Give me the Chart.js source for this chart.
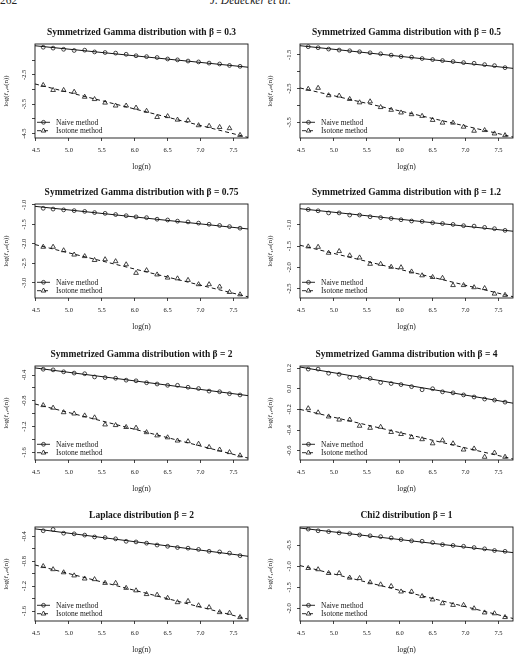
<!DOCTYPE html>
<html>
<head>
<meta charset="utf-8">
<script src="https://cdn.jsdelivr.net/npm/chart.js@4.4.0/dist/chart.umd.min.js"></script>
<style>
  body { margin: 0; background: #fff; width: 518px; height: 660px; position: relative; overflow: hidden; font-family: "Liberation Serif", serif; }
  .hdr { position: absolute; top: -6px; font-size: 11.5px; color: #222; }
  canvas { position: absolute; }
</style>
</head>
<body>
<div class="hdr" style="left:0">262</div>
<div class="hdr" style="left:210px;font-style:italic">J. Dedecker et al.</div>

<canvas id="p1" width="259" height="152" style="left:0;top:22px"></canvas>
<canvas id="p2" width="259" height="152" style="left:259px;top:22px"></canvas>
<canvas id="p3" width="259" height="152" style="left:0;top:182px"></canvas>
<canvas id="p4" width="259" height="152" style="left:259px;top:182px"></canvas>
<canvas id="p5" width="259" height="152" style="left:0;top:344px"></canvas>
<canvas id="p6" width="259" height="152" style="left:259px;top:344px"></canvas>
<canvas id="p7" width="259" height="152" style="left:0;top:505px"></canvas>
<canvas id="p8" width="259" height="152" style="left:259px;top:505px"></canvas>

<script>
// log(n), n = 100 ... 2000
var logN = [4.61, 4.76, 4.92, 5.08, 5.24, 5.39, 5.55, 5.71, 5.87, 6.02, 6.18, 6.34, 6.50, 6.65, 6.81, 6.97, 7.13, 7.29, 7.44, 7.60];
var xMin = 4.485, xMax = 7.721;
var xTicks = [4.5, 5.0, 5.5, 6.0, 6.5, 7.0, 7.5];
var xTickLabels = ['4.5', '5.0', '5.5', '6.0', '6.5', '7.0', '7.5'];
var fitX = [xMin, xMax];

var titles = [
    'Symmetrized Gamma distribution with β = 0.3',
    'Symmetrized Gamma distribution with β = 0.5',
    'Symmetrized Gamma distribution with β = 0.75',
    'Symmetrized Gamma distribution with β = 1.2',
    'Symmetrized Gamma distribution with β = 2',
    'Symmetrized Gamma distribution with β = 4',
    'Laplace distribution β = 2',
    'Chi2 distribution β = 1'
];

// naive method
var naiveB03 = [-1.56, -1.59, -1.63, -1.67, -1.66, -1.72, -1.74, -1.76, -1.80, -1.85, -1.88, -1.91, -1.96, -1.99, -2.03, -2.06, -2.10, -2.13, -2.18, -2.21];
var naiveB05 = [-1.26, -1.29, -1.33, -1.36, -1.38, -1.41, -1.44, -1.47, -1.51, -1.55, -1.57, -1.61, -1.64, -1.67, -1.70, -1.73, -1.75, -1.79, -1.82, -1.88];
var naiveB075 = [-1.09, -1.11, -1.13, -1.15, -1.17, -1.20, -1.22, -1.25, -1.28, -1.31, -1.33, -1.37, -1.39, -1.42, -1.44, -1.47, -1.50, -1.53, -1.56, -1.60];
var naiveB12 = [-0.64, -0.67, -0.72, -0.72, -0.77, -0.77, -0.81, -0.83, -0.85, -0.88, -0.91, -0.92, -0.95, -0.97, -0.99, -1.02, -1.03, -1.06, -1.09, -1.13];
var naiveB2 = [-0.31, -0.32, -0.35, -0.37, -0.38, -0.43, -0.44, -0.45, -0.48, -0.49, -0.52, -0.54, -0.56, -0.56, -0.59, -0.61, -0.65, -0.66, -0.69, -0.71];
var naiveB4 = [0.19, 0.19, 0.15, 0.14, 0.11, 0.11, 0.10, 0.06, 0.05, 0.04, 0.02, -0.01, 0.00, -0.03, -0.04, -0.06, -0.08, -0.10, -0.11, -0.13];
var naiveLaplace = [-0.31, -0.29, -0.35, -0.36, -0.38, -0.41, -0.42, -0.44, -0.48, -0.49, -0.51, -0.54, -0.56, -0.58, -0.59, -0.61, -0.64, -0.65, -0.67, -0.71];
var naiveChi2 = [-0.11, -0.15, -0.17, -0.20, -0.22, -0.25, -0.27, -0.29, -0.32, -0.36, -0.39, -0.40, -0.43, -0.48, -0.50, -0.52, -0.55, -0.58, -0.62, -0.64];

// isotone method
var isoB03 = [-2.85, -3.02, -3.02, -3.08, -3.25, -3.33, -3.45, -3.55, -3.55, -3.62, -3.73, -3.94, -3.91, -4.03, -4.05, -4.22, -4.24, -4.28, -4.32, -4.55];
var isoB05 = [-2.51, -2.48, -2.70, -2.71, -2.81, -2.91, -2.88, -3.05, -3.13, -3.21, -3.26, -3.31, -3.43, -3.51, -3.51, -3.63, -3.75, -3.73, -3.83, -3.88];
var isoB075 = [-2.08, -2.08, -2.17, -2.28, -2.32, -2.42, -2.40, -2.45, -2.53, -2.75, -2.68, -2.79, -2.87, -2.89, -2.93, -3.04, -3.04, -3.10, -3.24, -3.30];
var isoB12 = [-1.51, -1.52, -1.66, -1.62, -1.72, -1.77, -1.92, -1.92, -1.99, -2.00, -2.10, -2.19, -2.23, -2.25, -2.42, -2.42, -2.47, -2.49, -2.62, -2.65];
var isoB2 = [-0.87, -0.91, -0.98, -1.00, -1.03, -1.06, -1.17, -1.18, -1.21, -1.22, -1.29, -1.34, -1.37, -1.42, -1.43, -1.47, -1.52, -1.56, -1.60, -1.65];
var isoB4 = [-0.19, -0.23, -0.27, -0.30, -0.30, -0.36, -0.38, -0.37, -0.42, -0.44, -0.47, -0.49, -0.53, -0.50, -0.53, -0.59, -0.58, -0.66, -0.62, -0.66];
var isoLaplace = [-0.88, -0.93, -0.98, -1.03, -1.08, -1.09, -1.15, -1.15, -1.23, -1.27, -1.33, -1.34, -1.39, -1.46, -1.44, -1.51, -1.54, -1.62, -1.63, -1.70];
var isoChi2 = [-1.04, -1.07, -1.16, -1.16, -1.27, -1.28, -1.38, -1.43, -1.47, -1.60, -1.60, -1.71, -1.79, -1.88, -1.92, -1.92, -2.00, -2.10, -2.12, -2.21];

// fitted regression lines, values at xMin and xMax
var fitNaive = [[-1.51, -2.24], [-1.23, -1.90], [-1.04, -1.62], [-0.62, -1.15], [-0.29, -0.72], [0.21, -0.14], [-0.28, -0.72], [-0.085, -0.67]];
var fitIso = [[-2.81, -4.63], [-2.48, -3.93], [-2.02, -3.36], [-1.48, -2.69], [-0.85, -1.69], [-0.20, -0.68], [-0.86, -1.73], [-0.98, -2.24]];

// y axis ticks and labels
var yTicks = [
    [-4.5, -4.0, -3.5, -3.0, -2.5, -2.0],
    [-3.5, -3.0, -2.5, -2.0, -1.5],
    [-3.0, -2.5, -2.0, -1.5, -1.0],
    [-2.5, -2.0, -1.5, -1.0],
    [-1.6, -1.4, -1.2, -1.0, -0.8, -0.6, -0.4],
    [-0.6, -0.4, -0.2, 0.0, 0.2],
    [-1.6, -1.4, -1.2, -1.0, -0.8, -0.6, -0.4],
    [-2.0, -1.5, -1.0, -0.5]
];
var yTickLabels = [
    ['-4.5', '', '-3.5', '', '-2.5', ''],
    ['-3.5', '', '-2.5', '', '-1.5'],
    ['-3.0', '-2.5', '-2.0', '-1.5', '-1.0'],
    ['-2.5', '-2.0', '-1.5', '-1.0'],
    ['-1.6', '', '-1.2', '', '-0.8', '', '-0.4'],
    ['-0.6', '-0.4', '-0.2', '0.0', '0.2'],
    ['-1.6', '', '-1.2', '', '-0.8', '', '-0.4'],
    ['-2.0', '-1.5', '-1.0', '-0.5']
];
var yRange = [[-4.65, -1.45], [-3.96, -1.18], [-3.39, -0.98], [-2.72, -0.51], [-1.72, -0.26], [-0.69, 0.22], [-1.76, -0.25], [-2.30, -0.06]];

var naiveAll = [naiveB03, naiveB05, naiveB075, naiveB12, naiveB2, naiveB4, naiveLaplace, naiveChi2];
var isoAll = [isoB03, isoB05, isoB075, isoB12, isoB2, isoB4, isoLaplace, isoChi2];

var ink = '#151515';
var serif = '"Liberation Serif", "DejaVu Serif", serif';

function drawMarker(ctx, style, x, y, r) {
    ctx.beginPath();
    if (style === 'triangle') {
        for (var k = 0; k < 3; k++) {
            var a = k * 2 * Math.PI / 3;
            var px = x + Math.sin(a) * r, py = y - Math.cos(a) * r;
            if (k === 0) ctx.moveTo(px, py); else ctx.lineTo(px, py);
        }
        ctx.closePath();
    } else {
        ctx.arc(x, y, r, 0, 2 * Math.PI);
    }
    ctx.stroke();
}

// box around the plot region
var boxPlugin = {
    id: 'plotBox',
    beforeDatasetsDraw: function(chart) {
        var a = chart.chartArea, ctx = chart.ctx;
        ctx.save();
        ctx.strokeStyle = ink;
        ctx.lineWidth = 0.9;
        ctx.strokeRect(a.left, a.top, a.right - a.left, a.bottom - a.top);
        ctx.restore();
    }
};

// legend in the lower left corner, like R's legend("bottomleft")
var legendPlugin = {
    id: 'insideLegend',
    afterDatasetsDraw: function(chart) {
        var a = chart.chartArea, ctx = chart.ctx;
        var ds = chart.data.datasets;
        var rows = [
            { pts: ds[0], line: ds[2], dy: 15.7 },
            { pts: ds[1], line: ds[3], dy: 7.3 }
        ];
        ctx.save();
        ctx.strokeStyle = ink;
        ctx.fillStyle = ink;
        ctx.font = '7.5px ' + serif;
        ctx.textBaseline = 'middle';
        rows.forEach(function(row) {
            var y = a.bottom - row.dy;
            ctx.lineWidth = 0.9;
            ctx.setLineDash(row.line.borderDash || []);
            ctx.beginPath();
            ctx.moveTo(a.left + 2, y);
            ctx.lineTo(a.left + 15, y);
            ctx.stroke();
            ctx.setLineDash([]);
            ctx.lineWidth = 0.8;
            drawMarker(ctx, row.pts.pointStyle, a.left + 8.5, y, row.pts.pointRadius);
            ctx.fillText(row.pts.label, a.left + 21, y + 0.5);
        });
        ctx.restore();
    }
};

function pairs(xs, ys) {
    return xs.map(function(x, i) { return { x: x, y: ys[i] }; });
}

function drawPanel(idx) {
    var col = idx % 2;
    var ctx = document.getElementById('p' + (idx + 1));
    new Chart(ctx, {
        type: 'scatter',
        data: {
            datasets: [
                {
                    label: 'Naive method',
                    data: pairs(logN, naiveAll[idx]),
                    pointStyle: 'circle',
                    pointRadius: 1.9,
                    pointBorderWidth: 0.8,
                    borderColor: ink,
                    backgroundColor: 'rgba(0,0,0,0)'
                },
                {
                    label: 'Isotone method',
                    data: pairs(logN, isoAll[idx]),
                    pointStyle: 'triangle',
                    pointRadius: 2.7,
                    pointBorderWidth: 0.8,
                    borderColor: ink,
                    backgroundColor: 'rgba(0,0,0,0)'
                },
                {
                    label: 'naive fit',
                    data: pairs(fitX, fitNaive[idx]),
                    showLine: true,
                    pointRadius: 0,
                    borderWidth: 1,
                    borderColor: ink
                },
                {
                    label: 'isotone fit',
                    data: pairs(fitX, fitIso[idx]),
                    showLine: true,
                    pointRadius: 0,
                    borderWidth: 1,
                    borderDash: [4, 3],
                    borderColor: ink
                }
            ]
        },
        options: {
            responsive: false,
            animation: false,
            events: [],
            layout: { padding: { left: 0, right: col === 0 ? 11 : 5, top: 0, bottom: 0 } },
            plugins: {
                legend: { display: false },
                tooltip: { enabled: false },
                title: {
                    display: true,
                    text: titles[idx],
                    fullSize: false,
                    color: ink,
                    font: { family: serif, size: 9.5, weight: 'bold' },
                    padding: { top: 4.6, bottom: 6 }
                }
            },
            scales: {
                x: {
                    type: 'linear',
                    min: xMin,
                    max: xMax,
                    afterBuildTicks: function(s) { s.ticks = xTicks.map(function(v) { return { value: v }; }); },
                    afterFit: function(s) { s.height = 36; },
                    ticks: {
                        autoSkip: false,
                        maxRotation: 0,
                        minRotation: 0,
                        padding: 5,
                        color: ink,
                        font: { family: serif, size: 6.5 },
                        callback: function(v, i) { return xTickLabels[i]; }
                    },
                    grid: { drawOnChartArea: false, tickLength: 3, color: ink, lineWidth: 0.8 },
                    border: { display: false },
                    title: { display: true, text: 'log(n)', color: ink, font: { family: serif, size: 7.5 }, padding: { top: 0, bottom: 2 } }
                },
                y: {
                    type: 'linear',
                    min: yRange[idx][0],
                    max: yRange[idx][1],
                    afterBuildTicks: function(s) { s.ticks = yTicks[idx].map(function(v) { return { value: v }; }); },
                    afterFit: function(s) { s.width = col === 0 ? 35 : 41; },
                    ticks: {
                        autoSkip: false,
                        minRotation: 90,
                        maxRotation: 90,
                        crossAlign: 'center',
                        padding: 3,
                        color: ink,
                        font: { family: serif, size: 6.5 },
                        callback: function(v, i) { return yTickLabels[idx][i]; }
                    },
                    grid: { drawOnChartArea: false, tickLength: 3, color: ink, lineWidth: 0.8 },
                    border: { display: false },
                    title: { display: true, text: 'log(r\u0302\u2081,\u2099(n))', color: ink, font: { family: serif, size: 7 }, padding: { top: col === 0 ? 2 : 7, bottom: 0 } }
                }
            }
        },
        plugins: [boxPlugin, legendPlugin]
    });
}

for (var i = 0; i < 8; i++) {
    drawPanel(i);
}
</script>
</body>
</html>
